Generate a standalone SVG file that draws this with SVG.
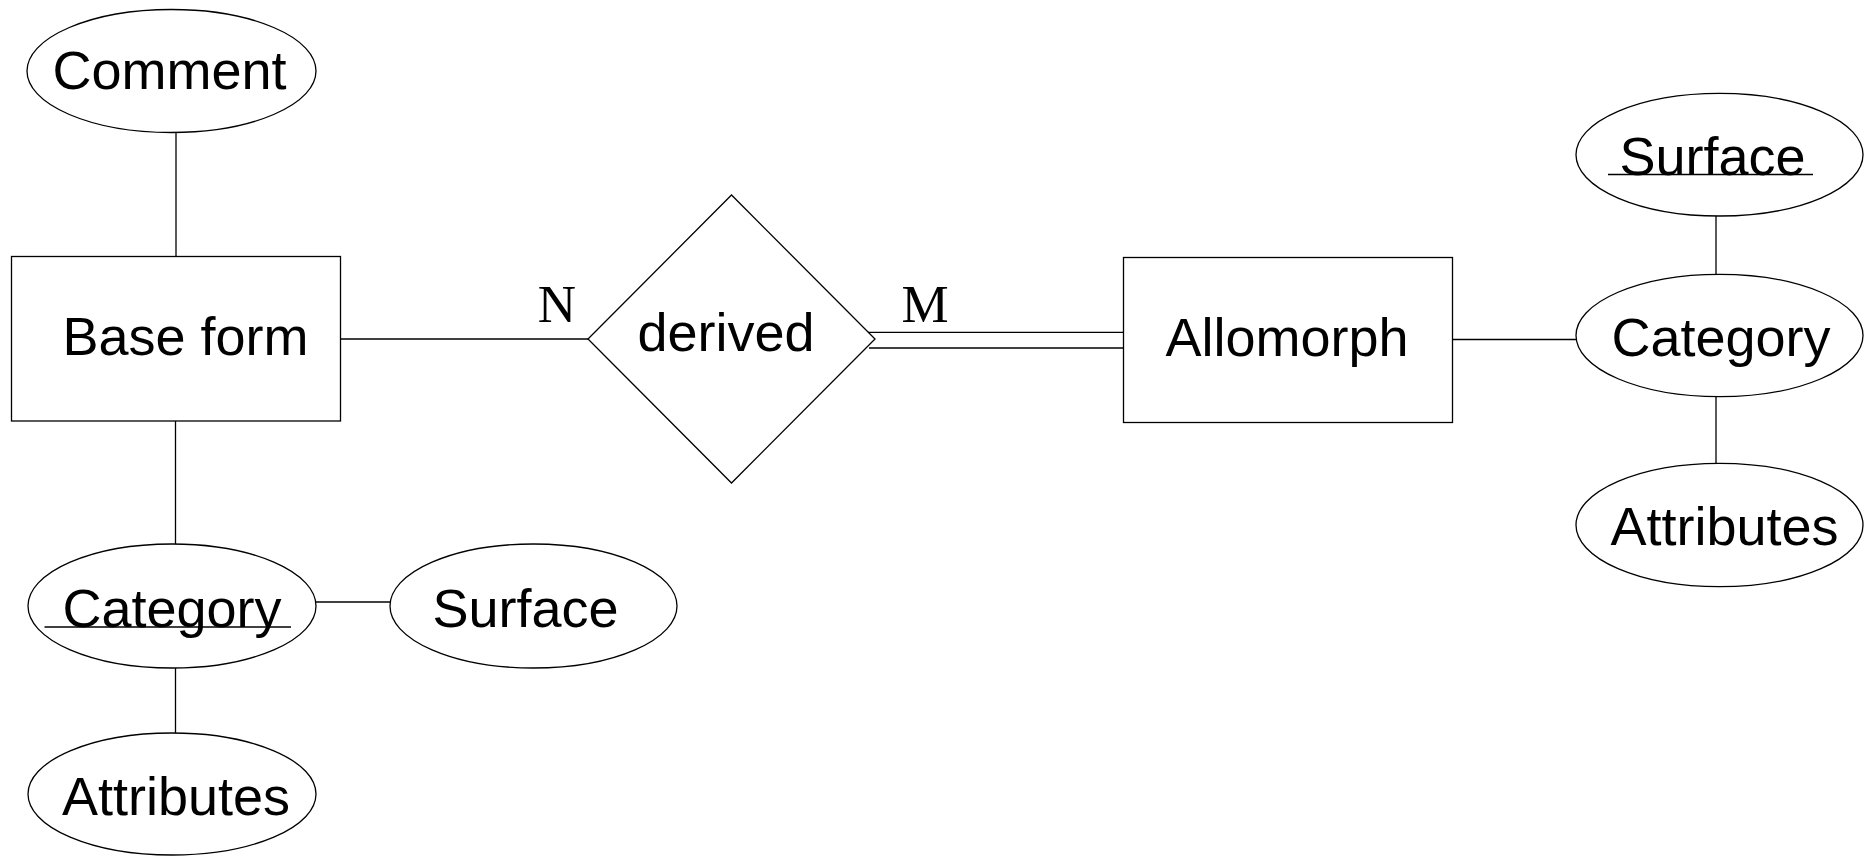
<svg xmlns="http://www.w3.org/2000/svg" width="1866" height="856" viewBox="0 0 1866 856">
  <style>
    .shape { fill: #ffffff; stroke: #000000; stroke-width: 1.3; }
    .link { fill: none; stroke: #000000; stroke-width: 1.3; }
    .label { font-family: "Liberation Sans", Arial, sans-serif; font-size: 54px; fill: #000000; text-anchor: middle; }
    .card { font-family: "Liberation Serif", "Times New Roman", serif; font-size: 53px; fill: #000000; text-anchor: middle; }
  </style>
  <rect width="1866" height="856" fill="#ffffff"/>

  <!-- connectors -->
  <g id="connectors">
    <line class="link" x1="176" y1="133" x2="176" y2="257"/>
    <line class="link" x1="175.5" y1="421" x2="175.5" y2="544"/>
    <line class="link" x1="316" y1="602" x2="390" y2="602"/>
    <line class="link" x1="175.5" y1="668" x2="175.5" y2="733"/>
    <line class="link" x1="341" y1="339" x2="588" y2="339"/>
    <line class="link" x1="868" y1="332.3" x2="1124" y2="332.3"/>
    <line class="link" x1="869" y1="348" x2="1124" y2="348"/>
    <line class="link" x1="1453" y1="339.5" x2="1576" y2="339.5"/>
    <line class="link" x1="1716" y1="216" x2="1716" y2="274.5"/>
    <line class="link" x1="1716" y1="396.5" x2="1716" y2="463.5"/>
  </g>

  <!-- cardinalities -->
  <g id="cardinalities">
    <text class="card" x="557" y="322">N</text>
    <text class="card" x="925" y="322">M</text>
  </g>

  <g id="comment">
    <ellipse class="shape" cx="171.5" cy="71" rx="144.5" ry="61.5"/>
    <text class="label" x="169.5" y="89">Comment</text>
  </g>

  <g id="base-form">
    <rect class="shape" x="11.5" y="256.5" width="329" height="164.5"/>
    <text class="label" x="185.5" y="355">Base form</text>
  </g>

  <g id="base-category">
    <ellipse class="shape" cx="172" cy="606" rx="144" ry="62"/>
    <text class="label" x="172" y="626.5">Category</text>
    <line class="link" x1="44.5" y1="627" x2="291" y2="627"/>
  </g>

  <g id="base-surface">
    <ellipse class="shape" cx="533.5" cy="606" rx="143.5" ry="62"/>
    <text class="label" x="525.5" y="626.5">Surface</text>
  </g>

  <g id="base-attributes">
    <ellipse class="shape" cx="172" cy="794" rx="144" ry="61"/>
    <text class="label" x="176" y="815">Attributes</text>
  </g>

  <g id="derived">
    <polygon class="shape" points="588,339 731.5,195 875,339 731.5,483"/>
    <text class="label" x="726" y="351">derived</text>
  </g>

  <g id="allomorph">
    <rect class="shape" x="1123.5" y="257.5" width="329" height="165"/>
    <text class="label" x="1287" y="356">Allomorph</text>
  </g>

  <g id="allo-surface">
    <ellipse class="shape" cx="1719.5" cy="154.7" rx="143.5" ry="61.3"/>
    <text class="label" x="1712.5" y="175">Surface</text>
    <line class="link" x1="1608" y1="174.5" x2="1813" y2="174.5"/>
  </g>

  <g id="allo-category">
    <ellipse class="shape" cx="1719.5" cy="335.5" rx="143.5" ry="61.2"/>
    <text class="label" x="1721" y="356">Category</text>
  </g>

  <g id="allo-attributes">
    <ellipse class="shape" cx="1719.5" cy="525" rx="143.5" ry="61.7"/>
    <text class="label" x="1724.5" y="545">Attributes</text>
  </g>
</svg>
